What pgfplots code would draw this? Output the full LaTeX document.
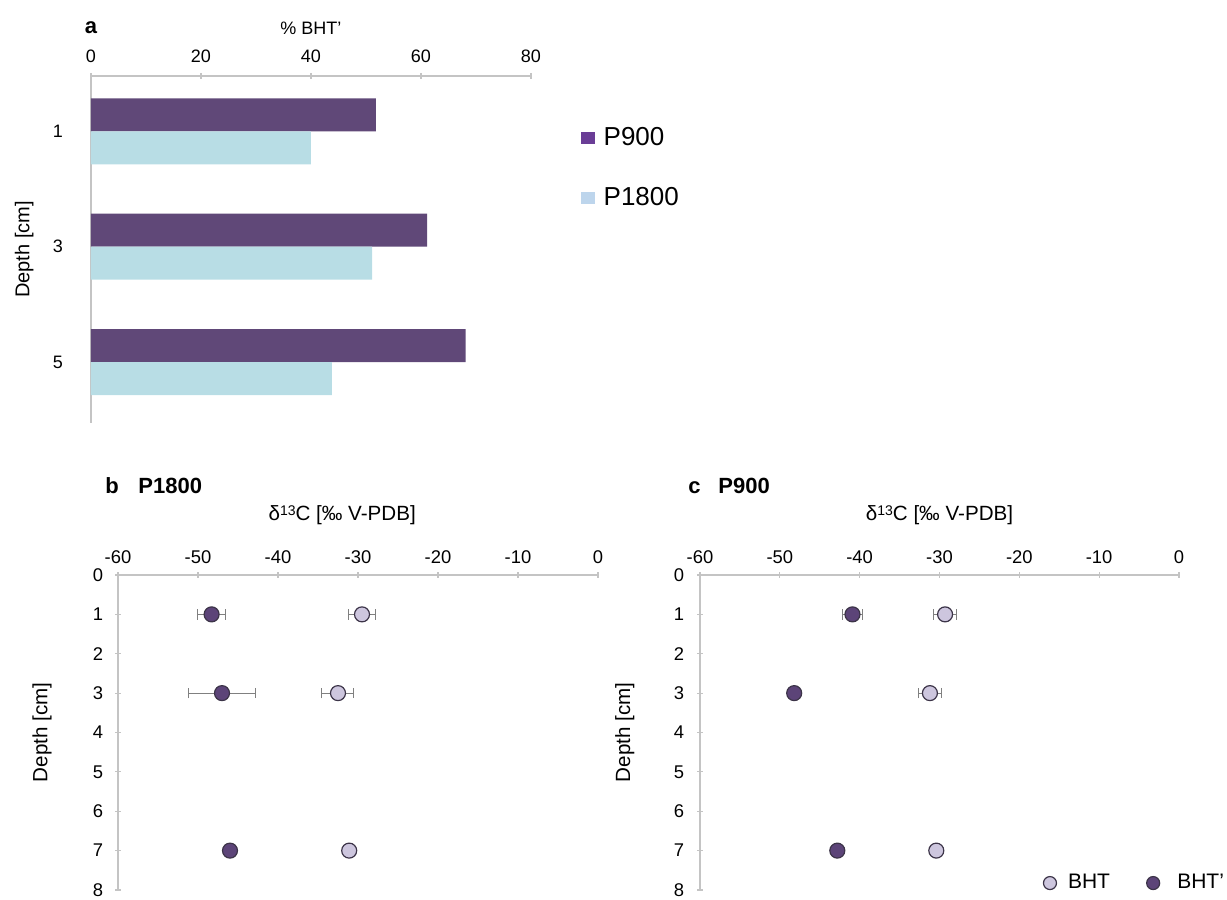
\documentclass[border=0pt]{standalone}
\usepackage{pgfplots}
\pgfplotsset{compat=1.18}
\usepackage{fontspec}
\setmainfont{Liberation Sans}
\definecolor{axgray}{HTML}{C4C4C4}
\definecolor{pnine}{HTML}{604878}
\definecolor{peight}{HTML}{B8DDE5}
\definecolor{legnine}{HTML}{6A3D96}
\definecolor{legeight}{HTML}{BDD5EC}
\definecolor{bhtfill}{HTML}{CDC6DE}
\definecolor{bhtdfill}{HTML}{5C4478}
\definecolor{mdraw}{HTML}{3C3448}
\definecolor{errgray}{HTML}{808080}
\pgfplotsset{
  base/.style={
    scale only axis, anchor=north west,
    /pgf/number format/assume math mode=true,
    y dir=reverse,
    axis x line*=top, axis y line*=left,
    axis line style={axgray, line width=0.6pt, -},
    tick style={axgray, line width=0.6pt},
    major tick length=3pt,
    tick align=center,
    enlargelimits=false,
    clip=false,
  },
  dots/.style={only marks, mark=*, mark size=3.75pt,
    mark options={fill=#1, draw=mdraw, line width=0.6pt},
    error bars/x dir=both, error bars/x explicit,
    error bars/error bar style={errgray, line width=0.5pt},
    error bars/error mark options={errgray, line width=0.5pt, mark size=2.6pt, rotate=90}},
}
\newcommand{\dC}{δ\raisebox{0.45ex}{\fontsize{7}{8}\selectfont 13}C [‰ V-PDB]}
\begin{document}
\begin{tikzpicture}
\path[use as bounding box] (0,0) rectangle (613.5pt,450pt);

% ---------- panel a ----------
\begin{axis}[base,
  at={(45.5pt,412pt)}, width=220pt, height=173.5pt,
  xbar, bar width=16.5pt,
  xmin=0, xmax=80, xtick={0,20,40,60,80},
  ymin=0.038, ymax=6.058, ytick={1,3,5},
  ytick style={draw=none},
  xticklabel style={anchor=center, yshift=8.5pt, font=\fontsize{9}{10}\selectfont},
  yticklabel style={anchor=center, xshift=-13.5pt, font=\fontsize{9}{10}\selectfont},
  xlabel={\% BHT'},
  xlabel style={at={(axis description cs:0.5,1.138)}, anchor=center, font=\fontsize{9}{10}\selectfont},
  ylabel={Depth [cm]},
  ylabel style={at={(axis description cs:-0.152,0.5)}, anchor=center, font=\fontsize{10}{12}\selectfont},
  legend style={at={(axis description cs:1.112,0.735)}, anchor=west, draw=none, fill=none,
    inner sep=0pt, row sep=17.5pt, font=\fontsize{13}{15}\selectfont,
    nodes={inner sep=1pt},
    /tikz/every odd column/.append style={column sep=3.5pt}},
  legend cell align=left,
]
\addplot[fill=pnine, draw=none, bar shift=8.25pt,
  legend image code/.code={\fill[legnine] (0pt,-3pt) rectangle (7pt,3pt);}]
  coordinates {(51.8,1) (61.1,3) (68.1,5)};
\addplot[fill=peight, draw=none, bar shift=-8.25pt,
  legend image code/.code={\fill[legeight] (0pt,-3pt) rectangle (7pt,3pt);}]
  coordinates {(40.0,1) (51.1,3) (43.8,5)};
\legend{P900, P1800}
\end{axis}
\node[font=\bfseries\fontsize{11}{13}\selectfont] at (45.5pt,436pt) {a};

% ---------- panel b ----------
\begin{axis}[base,
  at={(59pt,162.5pt)}, width=240pt, height=157.5pt,
  xmin=-60, xmax=0, xtick={-60,-50,-40,-30,-20,-10,0},
  ymin=0, ymax=8, ytick={0,1,2,3,4,5,6,7,8},
  xticklabel style={anchor=center, yshift=7.5pt, font=\fontsize{9.2}{10}\selectfont},
  yticklabel style={anchor=center, xshift=-8.5pt, font=\fontsize{9.2}{10}\selectfont},
  xlabel={\dC},
  xlabel style={at={(axis description cs:0.467,1.19)}, anchor=center, font=\fontsize{10.3}{12}\selectfont},
  ylabel={Depth [cm]},
  ylabel style={at={(axis description cs:-0.158,0.5)}, anchor=center, font=\fontsize{10.3}{12}\selectfont},
]
\addplot[dots=bhtfill] coordinates {(-29.5,1) +- (1.7,0) (-32.5,3) +- (2.0,0) (-31.1,7) +- (0.3,0)};
\addplot[dots=bhtdfill] coordinates {(-48.3,1) +- (1.7,0) (-47.0,3) +- (4.2,0) (-46.0,7) +- (0.6,0)};
\end{axis}
\node[font=\bfseries\fontsize{11}{13}\selectfont, anchor=base west, inner sep=0pt] at (52.5pt,203pt) {b};
\node[font=\bfseries\fontsize{11}{13}\selectfont, anchor=base west, inner sep=0pt] at (69pt,203pt) {P1800};

% ---------- panel c ----------
\begin{axis}[base,
  at={(350pt,162.5pt)}, width=239.5pt, height=157.5pt,
  xmin=-60, xmax=0, xtick={-60,-50,-40,-30,-20,-10,0},
  ymin=0, ymax=8, ytick={0,1,2,3,4,5,6,7,8},
  xticklabel style={anchor=center, yshift=7.5pt, font=\fontsize{9.2}{10}\selectfont},
  yticklabel style={anchor=center, xshift=-9pt, font=\fontsize{9.2}{10}\selectfont},
  xlabel={\dC},
  xlabel style={at={(axis description cs:0.5,1.19)}, anchor=center, font=\fontsize{10.3}{12}\selectfont},
  ylabel={Depth [cm]},
  ylabel style={at={(axis description cs:-0.157,0.5)}, anchor=center, font=\fontsize{10.3}{12}\selectfont},
  legend columns=2,
  legend style={at={(axis description cs:0.715,0.022)}, anchor=west, draw=none, fill=none,
    inner sep=0pt, font=\fontsize{10.5}{12}\selectfont,
    /tikz/every odd column/.append style={column sep=3.5pt},
    /tikz/every even column/.append style={column sep=16pt}},
]
\addplot[dots=bhtfill,
  legend image code/.code={\node[circle, inner sep=0pt, minimum size=6.5pt, fill=bhtfill, draw=mdraw, line width=0.6pt] at (3.5pt,0pt) {};}]
  coordinates {(-29.3,1) +- (1.4,0) (-31.2,3) +- (1.4,0) (-30.4,7) +- (0.3,0)};
\addplot[dots=bhtdfill,
  legend image code/.code={\node[circle, inner sep=0pt, minimum size=6.5pt, fill=bhtdfill, draw=mdraw, line width=0.6pt] at (3.5pt,0pt) {};}]
  coordinates {(-40.9,1) +- (1.3,0) (-48.2,3) +- (0.6,0) (-42.8,7) +- (0.3,0)};
\legend{BHT, \hspace{3pt}BHT'}
\end{axis}
\node[font=\bfseries\fontsize{11}{13}\selectfont, anchor=base west, inner sep=0pt] at (344pt,203pt) {c};
\node[font=\bfseries\fontsize{11}{13}\selectfont, anchor=base west, inner sep=0pt] at (359pt,203pt) {P900};
\end{tikzpicture}
\end{document}
